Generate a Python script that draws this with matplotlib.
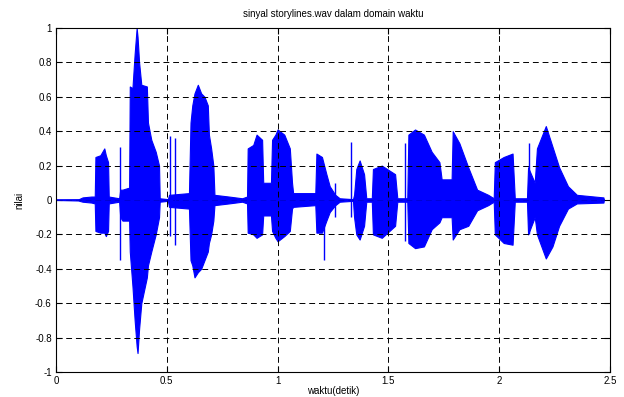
import numpy as np
import matplotlib.pyplot as plt

plt.rcParams['font.family'] = ['Liberation Sans', 'DejaVu Sans']

# envelope of the waveform (time, upper, lower)
env_t = [0.00, 0.10, 0.12, 0.16, 0.175, 0.178, 0.20, 0.218, 0.225, 0.235, 0.238,
         0.285, 0.29, 0.30, 0.325, 0.33, 0.333, 0.345, 0.355, 0.364, 0.368, 0.375,
         0.385, 0.41, 0.415, 0.43, 0.45, 0.465, 0.468, 0.505, 0.51, 0.60, 0.607,
         0.615, 0.625, 0.64, 0.655, 0.67, 0.685, 0.69, 0.70, 0.71, 0.715, 0.78,
         0.84, 0.862, 0.865, 0.89, 0.905, 0.93, 0.935, 0.97, 0.975, 0.99, 1.00,
         1.03, 1.055, 1.065, 1.07, 1.17, 1.175, 1.20, 1.22, 1.235, 1.26, 1.28,
         1.34, 1.345, 1.355, 1.37, 1.39, 1.40, 1.425, 1.43, 1.47, 1.53, 1.54,
         1.585, 1.59, 1.62, 1.66, 1.695, 1.73, 1.74, 1.785, 1.79, 1.82, 1.86,
         1.90, 1.95, 1.975, 1.98, 2.02, 2.06, 2.07, 2.125, 2.13, 2.16, 2.17,
         2.21, 2.24, 2.27, 2.31, 2.35, 2.47, 2.472]
env_hi = [0, 0.003, 0.015, 0.02, 0.02, 0.25, 0.26, 0.30, 0.26, 0.22, 0.02,
          0.01, 0.06, 0.06, 0.07, 0.07, 0.66, 0.65, 0.85, 1.0, 0.95, 0.8,
          0.67, 0.66, 0.45, 0.35, 0.28, 0.2, 0.01, 0.005, 0.03, 0.04, 0.45,
          0.55, 0.62, 0.67, 0.62, 0.6, 0.55, 0.38, 0.3, 0.2, 0.03, 0.02,
          0.01, 0.02, 0.3, 0.32, 0.38, 0.35, 0.1, 0.1, 0.35, 0.38, 0.41,
          0.38, 0.3, 0.1, 0.04, 0.04, 0.27, 0.25, 0.15, 0.08, 0.03, 0.01,
          0.005, 0.03, 0.18, 0.23, 0.15, 0.01, 0.01, 0.18, 0.2, 0.15, 0.01,
          0.01, 0.38, 0.41, 0.38, 0.28, 0.22, 0.12, 0.12, 0.4, 0.33, 0.19,
          0.06, 0.03, 0.01, 0.22, 0.25, 0.27, 0.01, 0.01, 0.19, 0.1, 0.3,
          0.43, 0.31, 0.19, 0.08, 0.03, 0.015, 0]
env_lo = [0, -0.003, -0.01, -0.015, -0.02, -0.18, -0.19, -0.19, -0.21, -0.18, -0.02,
          -0.01, -0.1, -0.12, -0.12, -0.12, -0.3, -0.5, -0.7, -0.85, -0.89, -0.75,
          -0.6, -0.45, -0.38, -0.3, -0.2, -0.1, -0.01, -0.005, -0.04, -0.05, -0.35,
          -0.38, -0.45, -0.42, -0.40, -0.35, -0.3, -0.25, -0.2, -0.12, -0.03, -0.02,
          -0.01, -0.02, -0.19, -0.2, -0.22, -0.2, -0.09, -0.09, -0.18, -0.22, -0.24,
          -0.21, -0.18, -0.05, -0.04, -0.03, -0.19, -0.19, -0.12, -0.07, -0.03, -0.01,
          -0.005, -0.1, -0.2, -0.23, -0.15, -0.01, -0.01, -0.2, -0.22, -0.15, -0.01,
          -0.01, -0.25, -0.28, -0.27, -0.17, -0.13, -0.1, -0.1, -0.23, -0.17, -0.15,
          -0.06, -0.03, -0.01, -0.2, -0.25, -0.26, -0.01, -0.01, -0.2, -0.1, -0.2,
          -0.34, -0.27, -0.15, -0.05, -0.02, -0.015, 0]

# isolated spikes (time, min, max)
spike_t = [0.29, 0.515, 0.538, 1.21, 1.26, 1.33, 1.574, 2.136]
spike_lo = [-0.35, -0.21, -0.26, -0.35, -0.1, -0.1, -0.24, -0.2]
spike_hi = [0.31, 0.37, 0.36, 0.0, 0.1, 0.34, 0.33, 0.33]

fig = plt.figure(figsize=(6.24, 3.97), dpi=100)
ax = fig.add_axes([0.0897, 0.063, 0.888, 0.8665])

ax.plot([0, 2.472], [0, 0], color='blue', lw=1.2)
ax.fill_between(env_t, env_lo, env_hi, color='blue', lw=0.8, edgecolor='blue')
ax.vlines(spike_t, spike_lo, spike_hi, color='blue', lw=1)

ax.set_xlim(0, 2.5)
ax.set_ylim(-1, 1)
ax.set_xticks(np.arange(0, 2.51, 0.5))
ax.set_xticklabels(['0', '0.5', '1', '1.5', '2', '2.5'])
ax.set_yticks(np.round(np.arange(-1, 1.01, 0.2), 1))
ax.set_yticklabels(['-1', '-0.8', '-0.6', '-0.4', '-0.2', '0', '0.2', '0.4', '0.6', '0.8', '1'])
ax.grid(True, color='black', linestyle=(0, (6, 4)), lw=0.7)
ax.tick_params(direction='in', labelsize=7, length=4, top=True, right=True,
               labeltop=False, labelright=False, pad=3)
for s in ax.spines.values():
    s.set_linewidth(0.8)

ax.set_title('sinyal storylines.wav dalam domain waktu', fontsize=7, pad=8)
ax.set_xlabel('waktu(detik)', fontsize=7, labelpad=0)
ax.set_ylabel('nilai', fontsize=7, labelpad=8)

fig.savefig('out.png', dpi=100)
